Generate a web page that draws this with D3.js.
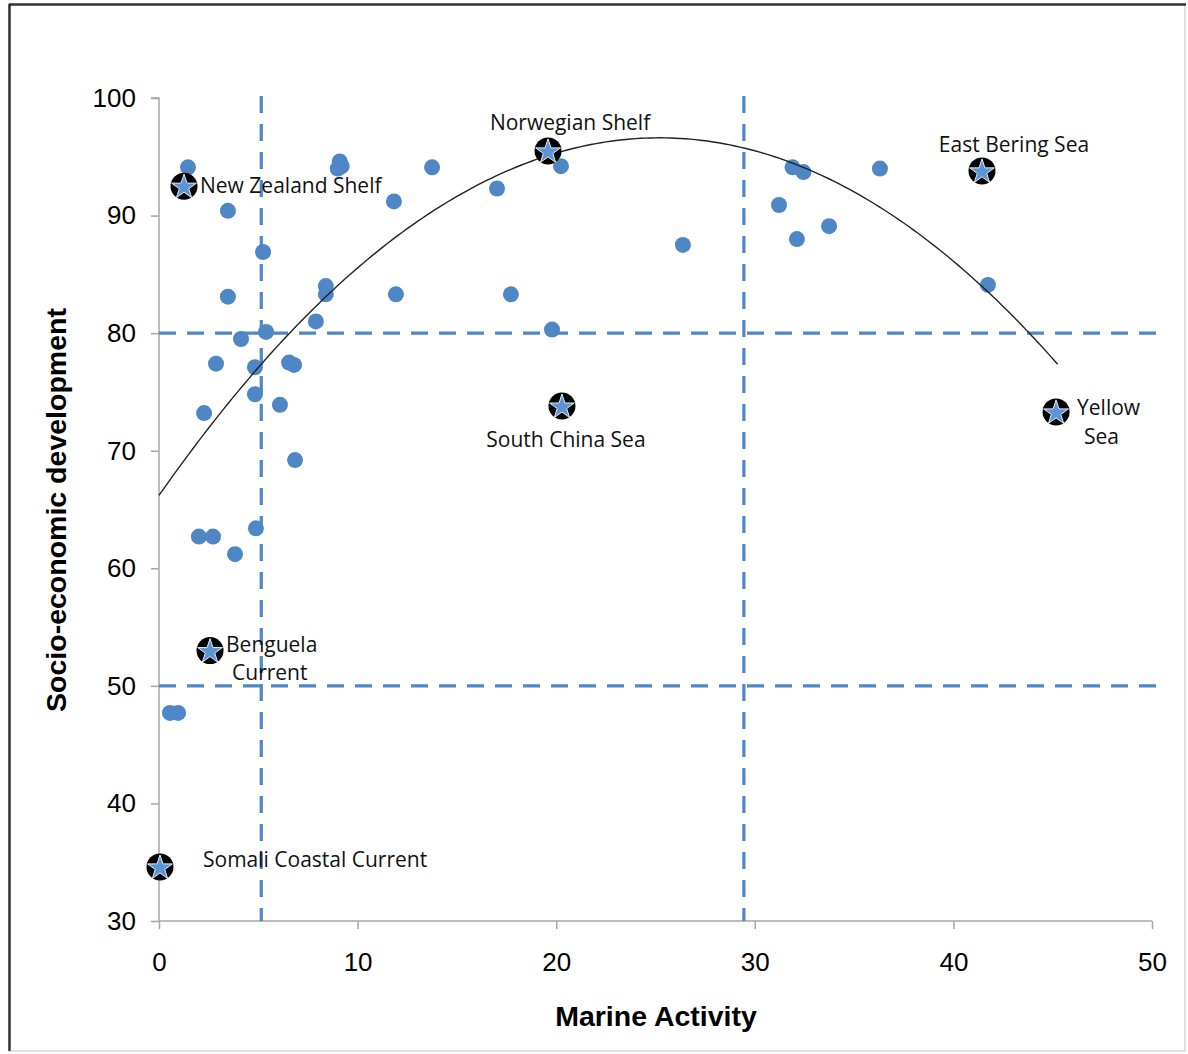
<!DOCTYPE html>
<html>
<head>
<meta charset="utf-8">
<script src="https://cdn.jsdelivr.net/npm/d3@7"></script>
<style>
  html, body { margin: 0; padding: 0; background: #fff; }
  svg { display: block; }
</style>
</head>
<body>
<svg id="chart" width="1188" height="1054"></svg>
<script>
// ---- Data ----
const xTicks = [0, 10, 20, 30, 40, 50];
const yTicks = [30, 40, 50, 60, 70, 80, 90, 100];

const pointsX = [1.46, 3.47, 3.47, 5.24, 5.39, 4.13, 2.87, 4.83, 4.83, 2.27, 6.55, 6.8, 6.09, 6.85,
  2.01, 2.72, 3.83, 4.88, 0.55, 0.96, 7.9, 8.4, 8.4, 9.1, 9.0, 9.2, 11.83, 11.93, 13.75, 17.02, 17.72,
  19.79, 20.24, 26.38, 31.22, 32.12, 31.9, 32.45, 33.74, 36.3, 41.74];
const pointsY = [94.1, 90.4, 83.1, 86.9, 80.1, 79.5, 77.4, 77.1, 74.8, 73.2, 77.5, 77.3, 73.9, 69.2,
  62.7, 62.7, 61.2, 63.4, 47.7, 47.7, 81.0, 84.0, 83.3, 94.6, 94.0, 94.2, 91.2, 83.3, 94.1, 92.3, 83.3,
  80.3, 94.2, 87.5, 90.9, 88.0, 94.1, 93.7, 89.1, 94.0, 84.1];

const starNames = ["New Zealand Shelf", "Norwegian Shelf", "East Bering Sea", "South China Sea",
  "Yellow Sea", "Benguela Current", "Somali Coastal Current"];
const starX = [1.26, 19.59, 41.44, 20.29, 45.17, 2.57, 0.05];
const starY = [92.5, 95.5, 93.8, 73.8, 73.3, 53.0, 34.6];

const thresholdX = [5.15, 29.45];
const thresholdY = [80, 50];

// Polynomial trendline coefficients (c0 + c1*x + c2*x^2) and its x-extent
const trendCoefficients = [66.2, 2.414, -0.0479];
const trendExtent = [0, 45.3];

const xTitle = "Marine Activity";
const yTitle = "Socio-economic development";

// ---- Layout ----
const svg = d3.select("#chart");
const blue = "#4f86c6";

const x = d3.scaleLinear().domain([0, 50]).range([159, 1152]);
const y = d3.scaleLinear().domain([30, 100]).range([921, 98]);

// Frame
svg.append("rect").attr("x", 9).attr("y", 4).attr("width", 1176).attr("height", 1047)
  .attr("fill", "#fff").attr("stroke", "#d8d8d8").attr("stroke-width", 1.5);
svg.append("line").attr("x1", 9).attr("x2", 1186).attr("y1", 4.5).attr("y2", 4.5)
  .attr("stroke", "#333").attr("stroke-width", 2.5);
svg.append("line").attr("x1", 9.5).attr("x2", 9.5).attr("y1", 4).attr("y2", 1051)
  .attr("stroke", "#333").attr("stroke-width", 2.5);

// Axes
const gx = svg.append("g").attr("transform", `translate(0,${y(30)})`)
  .call(d3.axisBottom(x).tickValues(xTicks).tickSize(8).tickPadding(24).tickSizeOuter(0));
const gy = svg.append("g").attr("transform", `translate(${x(0)},0)`)
  .call(d3.axisLeft(y).tickValues(yTicks).tickSize(8).tickPadding(15).tickSizeOuter(0));
[gx, gy].forEach(g => {
  g.select(".domain").attr("stroke", "#a6a6a6").attr("stroke-width", 1.5);
  g.selectAll(".tick line").attr("stroke", "#a6a6a6").attr("stroke-width", 1.5);
  g.selectAll(".tick text").attr("font-family", "Liberation Sans, Arial, sans-serif")
    .attr("font-size", 26).attr("fill", "#000");
});
gy.select(".domain").attr("d", `M-8,${y(100)}H0V${y(30)}`);
gx.select(".domain").attr("d", `M${x(0)},0H${x(50)}`);

// Axis titles
svg.append("text").attr("x", 656).attr("y", 1026).attr("text-anchor", "middle")
  .attr("font-family", "Liberation Sans, Arial, sans-serif").attr("font-weight", "bold")
  .attr("font-size", 28.5).text(xTitle);
svg.append("text").attr("transform", `translate(66,510) rotate(-90)`).attr("text-anchor", "middle")
  .attr("font-family", "Liberation Sans, Arial, sans-serif").attr("font-weight", "bold")
  .attr("font-size", 28.5).text(yTitle);

// Threshold dashed lines
svg.selectAll(".vline").data(thresholdX).join("line")
  .attr("x1", d => x(d)).attr("x2", d => x(d)).attr("y1", 96).attr("y2", y(30))
  .attr("stroke", blue).attr("stroke-width", 3.2).attr("stroke-dasharray", "17,11");
svg.selectAll(".hline").data(thresholdY).join("line")
  .attr("x1", x(0)).attr("x2", 1160).attr("y1", d => y(d)).attr("y2", d => y(d))
  .attr("stroke", blue).attr("stroke-width", 3.2).attr("stroke-dasharray", "17,11");

// Points
const pts = pointsX.map((v, i) => [v, pointsY[i]]);
svg.selectAll(".pt").data(pts).join("circle")
  .attr("cx", d => x(d[0])).attr("cy", d => y(d[1])).attr("r", 8)
  .attr("fill", blue);

// Trendline
const trend = d3.range(trendExtent[0], trendExtent[1] + 0.001, 0.25)
  .map(v => [v, trendCoefficients[0] + trendCoefficients[1] * v + trendCoefficients[2] * v * v]);
svg.append("path").datum(trend)
  .attr("d", d3.line().x(d => x(d[0])).y(d => y(d[1])).curve(d3.curveBasis))
  .attr("fill", "none").attr("stroke", "#222").attr("stroke-width", 1.4);

// Stars
const stars = starNames.map((n, i) => ({ name: n, x: starX[i], y: starY[i] }));
const sg = svg.selectAll(".star").data(stars).join("g")
  .attr("transform", d => `translate(${x(d.x)},${y(d.y)})`);
sg.append("circle").attr("r", 13.5).attr("fill", "#000");
sg.append("path").attr("d", d3.symbol(d3.symbolStar, 190)())
  .attr("transform", "translate(0,1)")
  .attr("fill", "#5b95d6").attr("stroke", "#e8eef6").attr("stroke-width", 1);

// Star labels
const labelFont = "Open Sans, Noto Sans, sans-serif";
const labels = [
  { lines: ["New Zealand Shelf"], anchor: "start", dx: 16, dy: [7], i: 0 },
  { lines: ["Norwegian Shelf"], anchor: "middle", dx: 22, dy: [-21], i: 1 },
  { lines: ["East Bering Sea"], anchor: "middle", dx: 32, dy: [-19], i: 2 },
  { lines: ["South China Sea"], anchor: "middle", dx: 4, dy: [41], i: 3 },
  { lines: ["Yellow", "Sea"], anchor: "start", dx: 21, dy: [3, 32], i: 4 },
  { lines: ["Benguela", "Current"], anchor: "start", dx: 16, dy: [1, 29], i: 5 },
  { lines: ["Somali Coastal Current"], anchor: "start", dx: 43, dy: [0], i: 6 }
];
labels.forEach(l => {
  const s = stars[l.i];
  l.lines.forEach((t, k) => {
    let dx = l.dx;
    if (l.i === 4 && k === 1) dx = 28;
    if (l.i === 5 && k === 1) dx = 22;
    svg.append("text").attr("x", x(s.x) + dx).attr("y", y(s.y) + l.dy[k])
      .attr("text-anchor", l.anchor).attr("font-family", labelFont).attr("font-size", 21)
      .attr("fill", "#111").text(t);
  });
});
</script>
</body>
</html>
